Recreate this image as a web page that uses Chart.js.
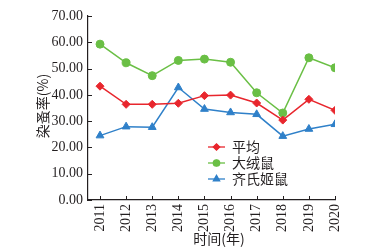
<!DOCTYPE html>
<html>
<head>
<meta charset="utf-8">
<script src="https://cdn.jsdelivr.net/npm/chart.js@4"></script>
<style>
  html, body { margin: 0; padding: 0; background: #fff; }
  #wrap { width: 391px; height: 248px; }
</style>
</head>
<body>
<div id="wrap"><canvas id="chart" width="391" height="248"></canvas></div>
<script>
// data
const years = [2011, 2012, 2013, 2014, 2015, 2016, 2017, 2018, 2019, 2020];
const avgRate = [43.3, 36.4, 36.4, 36.8, 39.7, 39.9, 36.9, 30.4, 38.3, 34.1];
const bigMouseRate = [59.3, 52.2, 47.3, 53.1, 53.6, 52.4, 40.8, 33.1, 54.1, 50.3];
const qiMouseRate = [24.5, 27.9, 27.7, 42.8, 34.6, 33.3, 32.6, 24.3, 27.0, 28.8];
const seriesNames = ["平均", "大绒鼠", "齐氏姬鼠"];
const yTicks = [0, 10, 20, 30, 40, 50, 60, 70];
const xTitle = "时间(年)";
const yTitle = "染蚤率(%)";

const serif = "Liberation Serif, Times New Roman, DejaVu Serif, serif";
const cjk = "Noto Sans CJK SC, sans-serif";
const ink = "#231f20";

const toPoints = (vals) => years.map((y, i) => ({ x: y, y: vals[i] }));

const colors = ["#e8262d", "#6abf45", "#2f80c9"];
const shapes = ["rectRot", "circle", "triangle"];
const radii = [4, 4, 4.5];

const datasets = [avgRate, bigMouseRate, qiMouseRate].map((vals, i) => ({
  label: seriesNames[i],
  data: toPoints(vals),
  borderColor: colors[i],
  backgroundColor: colors[i],
  borderWidth: 1.5,
  pointStyle: shapes[i],
  pointRadius: radii[i],
  pointBorderWidth: 1,
  tension: 0,
}));

// inward tick marks, axis titles and the in-plot legend
const extras = {
  id: "extras",
  afterDraw(chart) {
    const ctx = chart.ctx;
    const { x, y } = chart.scales;
    const area = chart.chartArea;
    ctx.save();
    ctx.strokeStyle = ink;
    ctx.lineWidth = 1;
    ctx.beginPath();
    years.forEach((v) => {
      const px = Math.round(x.getPixelForValue(v)) + 0.5;
      ctx.moveTo(px, area.bottom);
      ctx.lineTo(px, area.bottom - 4);
    });
    yTicks.forEach((v) => {
      const py = Math.round(y.getPixelForValue(v)) + 0.5;
      ctx.moveTo(area.left, py);
      ctx.lineTo(area.left + 4, py);
    });
    ctx.stroke();
    ctx.restore();

    ctx.save();
    ctx.fillStyle = ink;
    ctx.textBaseline = "middle";
    ctx.textAlign = "center";
    ctx.font = "14px " + cjk;
    ctx.fillText(xTitle, 219, 239);
    ctx.translate(43, 106);
    ctx.rotate(-Math.PI / 2);
    ctx.fillText(yTitle, 0, 0);
    ctx.restore();

    ctx.save();
    const rows = [147, 163, 179];
    const legendR = [3.2, 3.2, 3.6];
    chart.data.datasets.forEach((ds, i) => {
      const ly = rows[i];
      ctx.strokeStyle = ds.borderColor;
      ctx.lineWidth = 1.3;
      ctx.beginPath();
      ctx.moveTo(208, ly);
      ctx.lineTo(225, ly);
      ctx.stroke();
      ctx.fillStyle = ds.backgroundColor;
      Chart.helpers.drawPoint(ctx, { pointStyle: ds.pointStyle, radius: legendR[i], rotation: 0, borderWidth: 1 }, 216.5, ly);
      ctx.fill();
      ctx.fillStyle = ink;
      ctx.font = "14px " + cjk;
      ctx.textAlign = "left";
      ctx.textBaseline = "middle";
      ctx.fillText(ds.label, 232, ly);
    });
    ctx.restore();
  },
};

new Chart(document.getElementById("chart"), {
  type: "line",
  data: { datasets },
  plugins: [extras],
  options: {
    responsive: false,
    animation: false,
    layout: { padding: { left: 0, right: 56, top: 16, bottom: 0 } },
    plugins: { legend: { display: false }, tooltip: { enabled: false } },
    scales: {
      x: {
        type: "linear",
        min: 2010.54,
        max: 2020,
        afterBuildTicks: (s) => { s.ticks = years.map((v) => ({ value: v })); },
        afterFit: (s) => { s.height = 48; },
        grid: { display: true, drawOnChartArea: false, drawTicks: false },
        border: { color: ink, width: 1.2 },
        ticks: {
          minRotation: 90,
          maxRotation: 90,
          color: ink,
          padding: 4,
          font: { family: serif, size: 14 },
          callback: (v) => String(v),
        },
      },
      y: {
        min: 0,
        max: 70,
        afterBuildTicks: (s) => { s.ticks = yTicks.map((v) => ({ value: v })); },
        afterFit: (s) => { s.width = 88; },
        grid: { display: true, drawOnChartArea: false, drawTicks: false },
        border: { color: ink, width: 1.2 },
        ticks: {
          color: ink,
          padding: 5,
          font: { family: serif, size: 14 },
          callback: (v) => v.toFixed(2),
        },
      },
    },
  },
});
</script>
</body>
</html>
